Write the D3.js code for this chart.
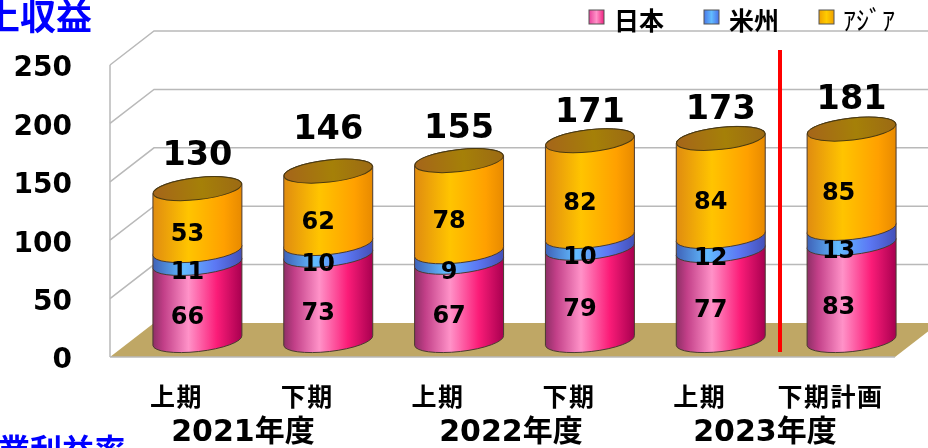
<!DOCTYPE html>
<html>
<head>
<meta charset="utf-8">
<script src="https://cdn.jsdelivr.net/npm/d3@7"></script>
<style>
  html, body { margin: 0; padding: 0; background: #fff; overflow: hidden; }
  svg { display: block; filter: blur(0.45px); }
  text { font-family: "DejaVu Sans", "Noto Sans CJK JP", sans-serif; fill: #000; }
</style>
</head>
<body>
<div class="svg-container"></div>
<script>
const periods = ['上期', '下期', '上期', '下期', '上期', '下期計画']
const years = ['2021年度', '2022年度', '2023年度']
const japan = [66, 73, 67, 79, 77, 83]
const usa = [11, 10, 9, 10, 12, 13]
const asia = [53, 62, 78, 82, 84, 85]
const totals = [130, 146, 155, 171, 173, 181]
const ticks = [0, 50, 100, 150, 200, 250]
const seriesNames = ['日本', '米州', 'ｱｼﾞｱ']

const width = 928
const height = 448
const depthX = 44
const depthY = 34
const plot = { left: 110, right: 895, top: 65, bottom: 357 }

const svg = d3.select('.svg-container').append('svg')
  .attr('width', width)
  .attr('height', height)

const rows = periods.map((p, i) => ({ i, japan: japan[i], usa: usa[i], asia: asia[i] }))
const stacked = d3.stack().keys(['japan', 'usa', 'asia'])(rows)

const x = d3.scaleBand()
  .domain(d3.range(periods.length))
  .range([plot.left, plot.right])
  .paddingInner(0.32)
  .paddingOuter(0.16)

const y = d3.scaleLinear().domain([0, 250]).range([plot.bottom, plot.top])

// gradients
const defs = svg.append('defs')
function gradient(id, stops) {
  const g = defs.append('linearGradient').attr('id', id)
  stops.forEach(s => g.append('stop').attr('offset', s[0]).attr('stop-color', s[1]))
}
gradient('pink', [[0, '#8e2f66'], [0.12, '#c23f88'], [0.4, '#ff92c8'], [0.72, '#fb1c78'], [1, '#a80050']])
gradient('blue', [[0, '#3f62b8'], [0.35, '#62bcff'], [0.7, '#5c78f4'], [1, '#4450b8']])
gradient('orange', [[0, '#e08c10'], [0.4, '#ffc400'], [0.8, '#ffa000'], [1, '#e88a00']])
gradient('lid', [[0, '#a5651a'], [0.55, '#a58008'], [1, '#9c6a14']])
gradient('swPink', [[0, '#e8409a'], [0.5, '#ff92c8'], [1, '#f02080']])
gradient('swBlue', [[0, '#4a78e8'], [0.5, '#62bcff'], [1, '#4a70e8']])
gradient('swOrange', [[0, '#f0a000'], [0.5, '#ffcc00'], [1, '#f0a000']])
const fills = ['url(#pink)', 'url(#blue)', 'url(#orange)']

const chart = svg.append('g')

// floor
chart.append('polygon')
  .attr('points', [
    [plot.left, plot.bottom],
    [plot.left + depthX, plot.bottom - depthY],
    [plot.right + depthX, plot.bottom - depthY],
    [plot.right, plot.bottom]
  ].join(' '))
  .attr('fill', '#bfa765')

// grid lines, side wall and back wall
const grid = chart.append('g').attr('stroke', '#b9b9b9').attr('stroke-width', 1.5).attr('fill', 'none')
grid.selectAll('path').data(ticks.filter(t => t > 0)).enter().append('path')
  .attr('d', t => `M${plot.left},${y(t)}L${plot.left + depthX},${y(t) - depthY}L${plot.right + depthX},${y(t) - depthY}`)
grid.append('line')
  .attr('x1', plot.left).attr('x2', plot.left)
  .attr('y1', y(250)).attr('y2', y(0))
grid.append('line')
  .attr('x1', plot.left).attr('x2', plot.right)
  .attr('y1', y(0)).attr('y2', y(0))

// y axis
const axisY = d3.axisLeft(y).tickValues(ticks).tickSize(0).tickPadding(38)
const groupY = svg.append('g').attr('transform', `translate(${plot.left},2)`).call(axisY)
groupY.select('.domain').remove()
groupY.selectAll('text')
  .attr('font-family', 'DejaVu Sans')
  .attr('font-size', 28)
  .attr('font-weight', 'bold')

// cylinders stand half way into the depth of the plot
const rx = x.bandwidth() / 2
const ry = 11
const tilt = 5
const rot = -6.4
const cx = i => x(i) + rx + depthX / 2
const yBar = v => y(v) - depthY / 2 + 0.5

function bodyPath(i, v0, v1) {
  const c = cx(i)
  const y0 = yBar(v0)
  const y1 = yBar(v1)
  return `M${c - rx},${y1 + tilt}L${c - rx},${y0 + tilt}` +
    `A${rx},${ry} ${rot} 0 0 ${c + rx},${y0 - tilt}` +
    `L${c + rx},${y1 - tilt}` +
    `A${rx},${ry} ${rot} 0 0 ${c - rx},${y1 + tilt}Z`
}

const bars = chart.append('g')
stacked.forEach((s, k) => {
  bars.append('g').selectAll('path').data(s).enter().append('path')
    .attr('d', (d, i) => bodyPath(i, d[0], d[1]))
    .attr('fill', fills[k])
    .attr('stroke', '#4a3a30')
    .attr('stroke-width', 1)
})

// lids
bars.append('g').selectAll('ellipse').data(stacked[2]).enter().append('ellipse')
  .attr('cx', (d, i) => cx(i))
  .attr('cy', d => yBar(d[1]))
  .attr('rx', rx)
  .attr('ry', ry)
  .attr('transform', (d, i) => `rotate(${rot} ${cx(i)} ${yBar(d[1])})`)
  .attr('fill', 'url(#lid)')
  .attr('stroke', '#4a3a10')
  .attr('stroke-width', 1)

// red divider between the results and the plan
chart.append('line')
  .attr('x1', 780).attr('x2', 780)
  .attr('y1', 50).attr('y2', 352)
  .attr('stroke', '#ff0000')
  .attr('stroke-width', 4)

// value labels sit left of the cylinder centre, the last column a bit more
const labelShift = i => (i === 5 ? -13 : -10)
stacked.forEach(s => {
  svg.append('g').selectAll('text').data(s).enter().append('text')
    .attr('x', (d, i) => cx(i) + labelShift(i))
    .attr('y', d => yBar((d[0] + d[1]) / 2) + 13)
    .attr('dy', '0.36em')
    .attr('text-anchor', 'middle')
    .attr('font-size', 24)
    .attr('font-weight', 'bold')
    .text(d => d[1] - d[0])
})

// totals, hand placed in the original so each one gets its own shift
const totalShift = [-36, -44, -35, -31, -31, -32]
svg.append('g').selectAll('text').data(totals).enter().append('text')
  .attr('x', (d, i) => cx(i))
  .attr('y', (d, i) => yBar(stacked[2][i][1]) + totalShift[i])
  .attr('dy', '0.36em')
  .attr('text-anchor', 'middle')
  .attr('font-size', 33.5)
  .attr('font-weight', 'bold')
  .text(d => d)

// period labels
svg.append('g').selectAll('text').data(periods).enter().append('text')
  .attr('x', (d, i) => x(i) + rx + 1)
  .attr('y', 406)
  .attr('text-anchor', 'middle')
  .attr('font-size', 25)
  .attr('font-weight', 'bold')
  .attr('letter-spacing', 1.5)
  .attr('font-family', '"Noto Sans CJK JP"')
  .text(d => d)

// fiscal years
const yearX = [243, 511, 765]
svg.append('g').selectAll('text').data(years).enter().append('text')
  .attr('x', (d, i) => yearX[i])
  .attr('y', 441)
  .attr('text-anchor', 'middle')
  .attr('font-size', 30)
  .attr('font-weight', 'bold')
  .text(d => d)

// legend
const legendX = [589, 704, 819]
const swatches = ['url(#swPink)', 'url(#swBlue)', 'url(#swOrange)']
const legend = svg.append('g').selectAll('g').data(seriesNames).enter().append('g')
  .attr('transform', (d, i) => `translate(${legendX[i]},10)`)
legend.append('rect')
  .attr('width', 15).attr('height', 14)
  .attr('fill', (d, i) => swatches[i])
  .attr('stroke', '#555')
  .attr('stroke-width', 1)
legend.append('text')
  .attr('x', (d, i) => i === 2 ? 24 : 25)
  .attr('y', 20)
  .attr('font-size', (d, i) => i === 2 ? 26 : 25)
  .attr('font-weight', (d, i) => i === 2 ? 'normal' : 'bold')
  .attr('font-family', '"Noto Sans CJK JP"')
  .text(d => d)

// section titles, cut by the edge of the picture
svg.append('text')
  .attr('x', 92).attr('y', 30)
  .attr('text-anchor', 'end')
  .attr('font-size', 36)
  .attr('font-weight', 'bold')
  .attr('font-family', '"Noto Sans CJK JP"')
  .style('fill', '#0000ff')
  .text('売上収益')

svg.append('text')
  .attr('x', 126).attr('y', 462)
  .attr('text-anchor', 'end')
  .attr('font-size', 32)
  .attr('font-weight', 'bold')
  .attr('font-family', '"Noto Sans CJK JP"')
  .style('fill', '#0000ff')
  .text('営業利益率')
</script>
</body>
</html>
